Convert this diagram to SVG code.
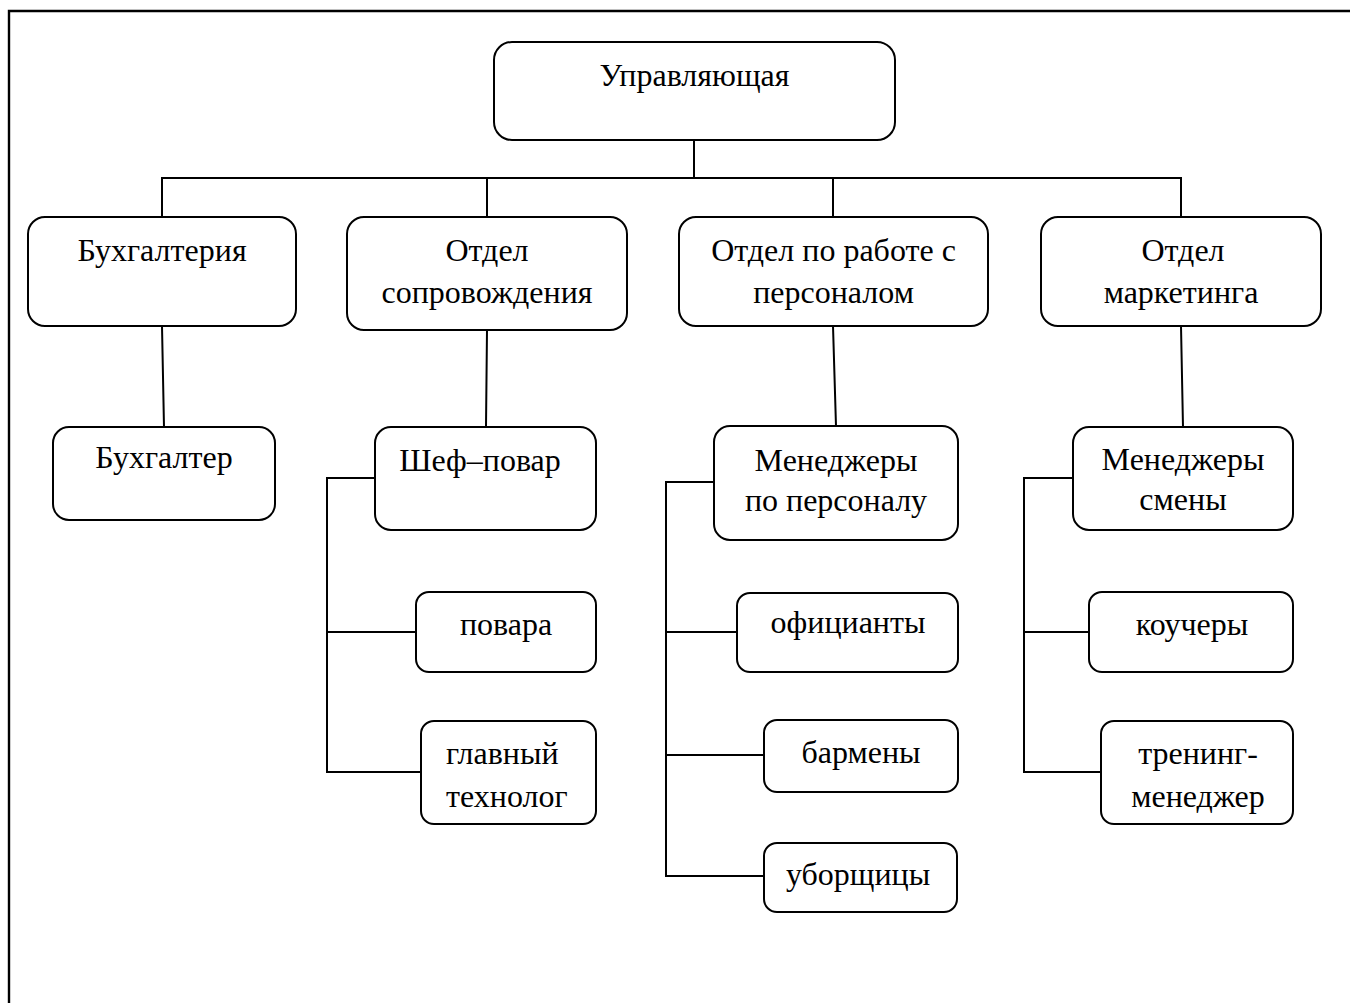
<svg xmlns="http://www.w3.org/2000/svg" width="1350" height="1003" viewBox="0 0 1350 1003">
  <style>
    .box { fill: #ffffff; stroke: #000000; stroke-width: 2; }
    .lbl { font-family: "Liberation Serif", "Times New Roman", serif; font-size: 32px; fill: #000000; text-anchor: middle; }
    .lft { text-anchor: start; }
    .wire { fill: none; stroke: #000000; stroke-width: 2; stroke-linecap: square; }
  </style>
  <rect width="1350" height="1003" fill="#ffffff"/>

  <!-- page frame (top and left edges) -->
  <path class="wire" d="M9 1003 V11 H1350" style="stroke-width:2.4"/>

  <!-- connectors -->
  <g id="connectors">
    <path class="wire" d="M694 140 V178"/>
    <path class="wire" d="M162 217 V178 H1181 V217"/>
    <path class="wire" d="M487 178 V217"/>
    <path class="wire" d="M833 178 V217"/>

    <path class="wire" d="M162 326 L164 427"/>
    <path class="wire" d="M487 330 L486 427"/>
    <path class="wire" d="M833 326 L836 426"/>
    <path class="wire" d="M1181 326 L1183 427"/>

    <path class="wire" d="M375 478 H327 V772 H421"/>
    <path class="wire" d="M327 632 H416"/>

    <path class="wire" d="M714 482 H666 V876 H764"/>
    <path class="wire" d="M666 632 H737"/>
    <path class="wire" d="M666 755 H764"/>

    <path class="wire" d="M1073 478 H1024 V772 H1101"/>
    <path class="wire" d="M1024 632 H1089"/>
  </g>

  <g id="n-head">
    <rect class="box" x="494" y="42" width="401" height="98" rx="18"/>
    <text class="lbl" x="694.5" y="86">Управляющая</text>
  </g>

  <g id="n-accounting">
    <rect class="box" x="28" y="217" width="268" height="109" rx="17"/>
    <text class="lbl" x="162" y="261">Бухгалтерия</text>
  </g>
  <g id="n-support">
    <rect class="box" x="347" y="217" width="280" height="113" rx="17"/>
    <text class="lbl" x="487" y="261">Отдел</text>
    <text class="lbl" x="487" y="303">сопровождения</text>
  </g>
  <g id="n-hr">
    <rect class="box" x="679" y="217" width="309" height="109" rx="17"/>
    <text class="lbl" x="833.5" y="261">Отдел по работе с</text>
    <text class="lbl" x="833.5" y="303">персоналом</text>
  </g>
  <g id="n-marketing">
    <rect class="box" x="1041" y="217" width="280" height="109" rx="17"/>
    <text class="lbl" x="1183" y="261">Отдел</text>
    <text class="lbl" x="1181" y="303">маркетинга</text>
  </g>

  <g id="n-accountant">
    <rect class="box" x="53" y="427" width="222" height="93" rx="16"/>
    <text class="lbl" x="164" y="468">Бухгалтер</text>
  </g>
  <g id="n-chef">
    <rect class="box" x="375" y="427" width="221" height="103" rx="16"/>
    <text class="lbl" x="480" y="471">Шеф–повар</text>
  </g>
  <g id="n-hr-managers">
    <rect class="box" x="714" y="426" width="244" height="114" rx="16"/>
    <text class="lbl" x="836" y="471">Менеджеры</text>
    <text class="lbl" x="836" y="511">по персоналу</text>
  </g>
  <g id="n-shift-managers">
    <rect class="box" x="1073" y="427" width="220" height="103" rx="16"/>
    <text class="lbl" x="1183" y="470">Менеджеры</text>
    <text class="lbl" x="1183" y="510">смены</text>
  </g>

  <g id="n-cooks">
    <rect class="box" x="416" y="592" width="180" height="80" rx="13"/>
    <text class="lbl" x="506" y="635">повара</text>
  </g>
  <g id="n-technologist">
    <rect class="box" x="421" y="721" width="175" height="103" rx="13"/>
    <text class="lbl lft" x="446" y="764">главный</text>
    <text class="lbl lft" x="446" y="807">технолог</text>
  </g>

  <g id="n-waiters">
    <rect class="box" x="737" y="593" width="221" height="79" rx="13"/>
    <text class="lbl" x="848" y="633">официанты</text>
  </g>
  <g id="n-barmen">
    <rect class="box" x="764" y="720" width="194" height="72" rx="13"/>
    <text class="lbl" x="861" y="763">бармены</text>
  </g>
  <g id="n-cleaners">
    <rect class="box" x="764" y="843" width="193" height="69" rx="13"/>
    <text class="lbl" x="858" y="885">уборщицы</text>
  </g>

  <g id="n-coaches">
    <rect class="box" x="1089" y="592" width="204" height="80" rx="13"/>
    <text class="lbl" x="1192" y="635">коучеры</text>
  </g>
  <g id="n-training">
    <rect class="box" x="1101" y="721" width="192" height="103" rx="13"/>
    <text class="lbl" x="1198" y="764">тренинг-</text>
    <text class="lbl" x="1198" y="807">менеджер</text>
  </g>
</svg>
